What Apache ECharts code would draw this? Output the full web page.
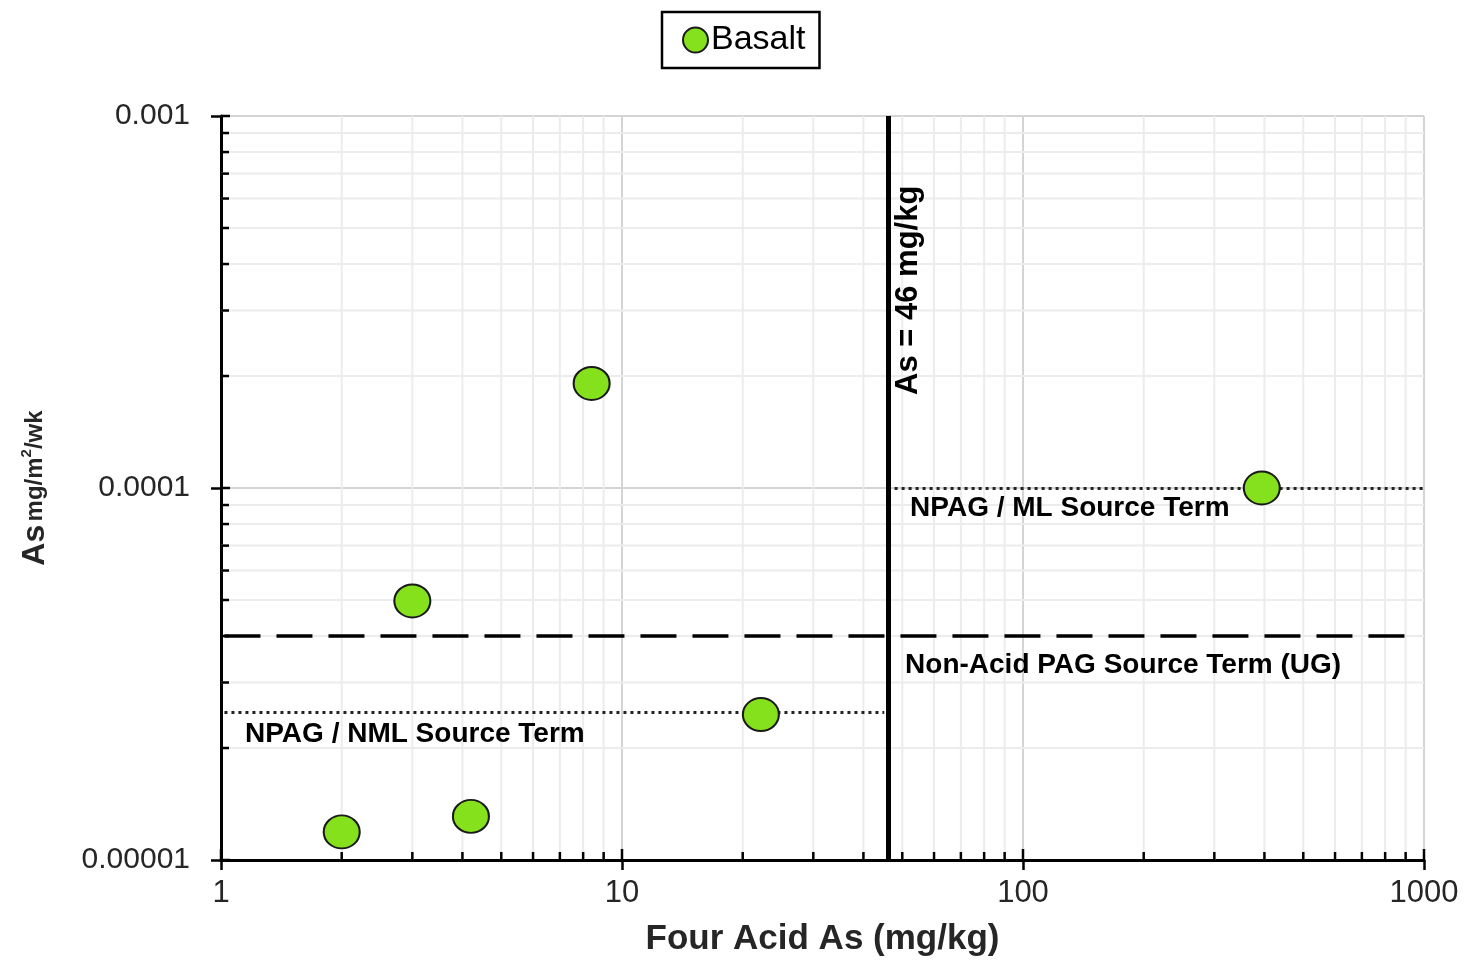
<!DOCTYPE html>
<html>
<head>
<meta charset="utf-8">
<script src="https://cdn.jsdelivr.net/npm/echarts@6/dist/echarts.min.js"></script>
<style>
html,body{margin:0;padding:0;background:#fff;}
#chart{width:1470px;height:962px;}
</style>
</head>
<body>
<div id="chart"></div>
<script>
// ---- data ----
const seriesName = 'Basalt';
const fourAcidAs = [2.0, 4.2, 3.0, 8.4, 22.2, 394];
const asLeach = [1.19e-5, 1.31e-5, 4.97e-5, 1.91e-4, 2.46e-5, 1.0e-4];

// reference lines
const asCriterion = 46;          // vertical line, mg/kg
const nonAcidPagTerm = 4.0e-5;    // dashed horizontal
const npagNmlTerm = 2.5e-5;       // dotted, x 1..46
const npagMlTerm = 1.0e-4;        // dotted, x 46..1000

// axes
const X_MIN = 1, X_MAX = 1000;
const Y_MIN = 1e-5, Y_MAX = 1e-3;
const xMajorTicks = [1, 10, 100, 1000];
const xTickLabels = ['1', '10', '100', '1000'];
const yMajorTicks = [1e-5, 1e-4, 1e-3];
const yTickLabels = ['0.00001', '0.0001', '0.001'];
const minorMultipliers = [2, 3, 4, 5, 6, 7, 8, 9];
const xDecades = [1, 10, 100];
const yDecades = [1e-5, 1e-4];

const FONT = '"Liberation Sans", Arial, Helvetica, sans-serif';

const xMinor = [];
xDecades.forEach(d => minorMultipliers.forEach(m => xMinor.push([d * m, Y_MIN])));
const yMinor = [];
yDecades.forEach(d => minorMultipliers.forEach(m => yMinor.push([X_MIN, d * m])));

function nearestLabel(v, ticks, labels) {
  let best = 0, bd = Infinity;
  ticks.forEach((t, i) => { const d = Math.abs(Math.log10(v) - Math.log10(t)); if (d < bd) { bd = d; best = i; } });
  return labels[best];
}

const chart = echarts.init(document.getElementById('chart'), null, {renderer: 'canvas'});

function minorX(params, api) {
  const v = api.value(0);
  const b = api.coord([v, Y_MIN]);
  const t = api.coord([v, Y_MAX]);
  return {type: 'group', children: [
    {type: 'line', shape: {x1: b[0], y1: b[1], x2: t[0], y2: t[1]}, style: {stroke: '#ececec', lineWidth: 2}},
    {type: 'line', shape: {x1: b[0], y1: b[1], x2: b[0], y2: b[1] - 8}, style: {stroke: '#000', lineWidth: 2.5}}
  ]};
}
function minorY(params, api) {
  const v = api.value(1);
  const l = api.coord([X_MIN, v]);
  const r = api.coord([X_MAX, v]);
  return {type: 'group', children: [
    {type: 'line', shape: {x1: l[0], y1: l[1], x2: r[0], y2: r[1]}, style: {stroke: '#ececec', lineWidth: 2}},
    {type: 'line', shape: {x1: l[0], y1: l[1], x2: l[0] + 8, y2: l[1]}, style: {stroke: '#000', lineWidth: 2.5}}
  ]};
}
function majorInX(params, api) {
  const v = api.value(0);
  const b = api.coord([v, Y_MIN]);
  return {type: 'line', shape: {x1: b[0], y1: b[1], x2: b[0], y2: b[1] - 11}, style: {stroke: '#000', lineWidth: 2.5}};
}
function majorInY(params, api) {
  const v = api.value(1);
  const l = api.coord([X_MIN, v]);
  return {type: 'line', shape: {x1: l[0], y1: l[1], x2: l[0] + 9, y2: l[1]}, style: {stroke: '#000', lineWidth: 2.5}};
}

const textLabel = (size) => ({show: true, color: '#000', fontFamily: FONT, fontWeight: 'bold', fontSize: size});

const option = {
  animation: false,
  backgroundColor: '#fff',
  legend: {
    data: [seriesName],
    left: 662, top: 12,
    padding: [11, 14, 11, 20],
    borderColor: '#000', borderWidth: 2.5,
    icon: 'circle',
    itemWidth: 25, itemHeight: 25, itemGap: 5,
    textStyle: {fontFamily: FONT, fontSize: 34, color: '#000', padding: [3, 0, 0, -2]}
  },
  grid: {left: 221, right: 46, top: 116, bottom: 102, containLabel: false, outerBoundsMode: 'none'},
  xAxis: {
    type: 'log', logBase: 10, min: X_MIN, max: X_MAX,
    name: 'Four Acid As (mg/kg)', nameLocation: 'middle', nameGap: 62,
    nameTextStyle: {fontFamily: FONT, fontWeight: 'bold', fontSize: 35, color: '#262626'},
    axisLine: {show: true, onZero: false, lineStyle: {color: '#000', width: 3}},
    axisTick: {show: true, length: 10, lineStyle: {color: '#000', width: 2.5}},
    axisLabel: {fontFamily: FONT, fontSize: 31, color: '#262626', margin: 18,
      formatter: v => nearestLabel(v, xMajorTicks, xTickLabels)},
    splitLine: {show: true, lineStyle: {color: '#d4d4d4', width: 2}},
    minorTick: {show: false}, minorSplitLine: {show: false}
  },
  yAxis: {
    type: 'log', logBase: 10, min: Y_MIN, max: Y_MAX,
    name: '{b|As} {s|mg/m}{sup|2}{s|/wk}', nameLocation: 'middle', nameGap: 170, nameRotate: 90,
    nameTextStyle: {
      fontFamily: FONT, color: '#262626',
      rich: {
        b: {fontFamily: FONT, fontWeight: 'bold', fontSize: 32, color: '#262626'},
        s: {fontFamily: FONT, fontWeight: 'bold', fontSize: 24, color: '#262626'},
        sup: {fontFamily: FONT, fontWeight: 'bold', fontSize: 15, color: '#262626', verticalAlign: 'top', padding: [0, 0, 12, 0]}
      }
    },
    axisLine: {show: true, onZero: false, lineStyle: {color: '#000', width: 3}},
    axisTick: {show: true, length: 10, lineStyle: {color: '#000', width: 2.5}},
    axisLabel: {
      fontFamily: FONT, fontSize: 30, color: '#262626', margin: 31,
      formatter: v => nearestLabel(v, yMajorTicks, yTickLabels)
    },
    splitLine: {show: true, lineStyle: {color: '#d4d4d4', width: 2}},
    minorTick: {show: false}, minorSplitLine: {show: false}
  },
  series: [
    {type: 'custom', name: 'xminor', z: 1, silent: true, renderItem: minorX, data: xMinor},
    {type: 'custom', name: 'yminor', z: 1, silent: true, renderItem: minorY, data: yMinor},
    {type: 'custom', name: 'xmajor', z: 1, silent: true, renderItem: majorInX, data: xMajorTicks.map(v => [v, Y_MIN])},
    {type: 'custom', name: 'ymajor', z: 1, silent: true, renderItem: majorInY, data: yMajorTicks.map(v => [X_MIN, v])},
    {
      type: 'scatter', name: 'refs', z: 3, silent: true, data: [],
      markLine: {
        silent: true, symbol: 'none', animation: false,
        label: {show: false},
        data: [
          [{coord: [X_MIN * 1.02, nonAcidPagTerm], lineStyle: {type: [36, 16], width: 3.5, color: '#000'}},
           {coord: [X_MAX * 0.98, nonAcidPagTerm]}],
          [{coord: [X_MIN * 1.02, npagNmlTerm], lineStyle: {type: [3, 4], width: 3, color: '#222'}},
           {coord: [asCriterion * 0.98, npagNmlTerm]}],
          [{coord: [asCriterion * 1.04, npagMlTerm], lineStyle: {type: [3, 4], width: 3, color: '#222'}},
           {coord: [X_MAX * 0.995, npagMlTerm]}],
          [{coord: [asCriterion, Y_MIN], lineStyle: {type: 'solid', width: 5, color: '#000'}},
           {coord: [asCriterion, Y_MAX]}]
        ]
      },
      markPoint: {
        silent: true, symbol: 'circle', symbolSize: 0, animation: false,
        data: [
          {coord: [51.7, 3.4e-4], label: Object.assign(textLabel(31), {position: 'inside', rotate: 90, formatter: 'As = 46 mg/kg'})},
          {coord: [52.3, 8.84e-5], label: Object.assign(textLabel(28), {position: 'right', distance: 0, formatter: 'NPAG / ML Source Term'})},
          {coord: [50.8, 3.34e-5], label: Object.assign(textLabel(28), {position: 'right', distance: 0, formatter: 'Non-Acid PAG Source Term (UG)'})},
          {coord: [1.148, 2.18e-5], label: Object.assign(textLabel(28), {position: 'right', distance: 0, formatter: 'NPAG / NML Source Term'})}
        ]
      }
    },
    {
      type: 'scatter', name: seriesName, z: 5,
      symbol: 'circle', symbolSize: [36, 33],
      itemStyle: {color: '#84e11c', borderColor: '#1a1a1a', borderWidth: 2, opacity: 1},
      data: fourAcidAs.map((x, i) => [x, asLeach[i]])
    }
  ]
};
chart.setOption(option);
</script>
</body>
</html>
